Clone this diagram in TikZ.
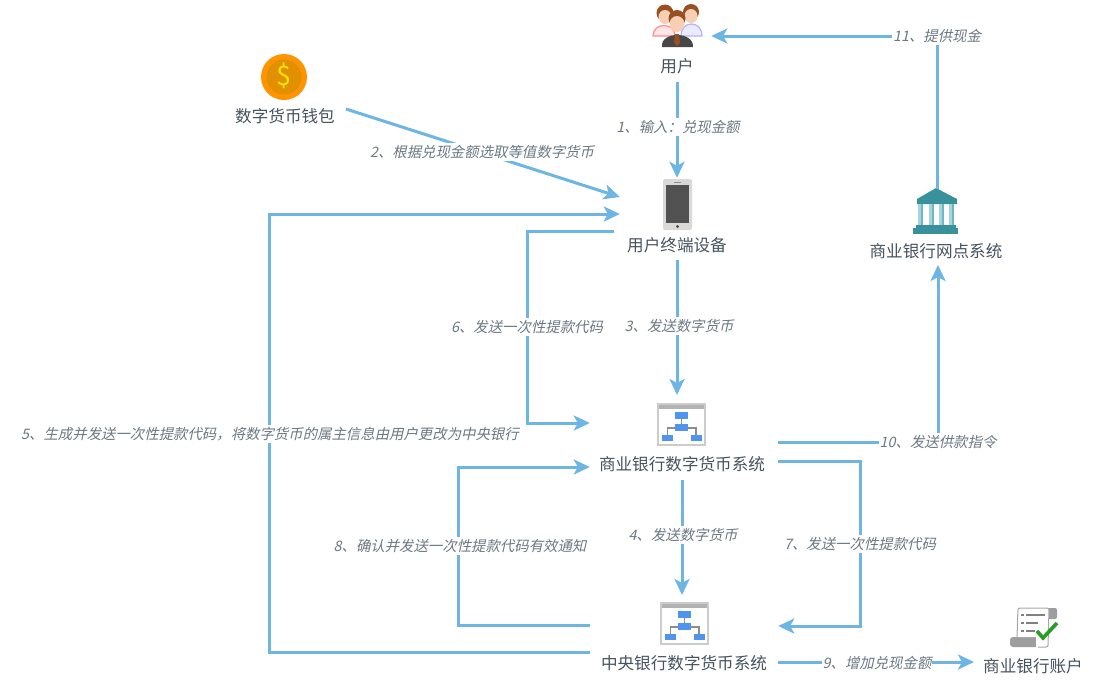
\documentclass[tikz,border=0pt]{standalone}
\usepackage{fontspec}
\setmainfont{Noto Sans CJK SC}
\newfontfamily\slantcjk[FakeSlant=0.22]{Noto Sans CJK SC}
\usetikzlibrary{arrows.meta}
\definecolor{flow}{HTML}{6DB5E2}
\definecolor{boxblue}{HTML}{4F94EE}
\definecolor{bankteal}{HTML}{39919C}
\definecolor{bankpale}{HTML}{A5D6DE}
\definecolor{bankmid}{HTML}{6FB8C3}
\definecolor{titleink}{HTML}{46525E}
\definecolor{noteink}{HTML}{6C7883}
\definecolor{hair}{HTML}{9A4F22}
\definecolor{skin}{HTML}{F7CFB4}
\tikzset{
  flowline/.style={draw=flow, line width=3pt,
    -{Stealth[length=16pt,width=15pt,inset=4pt]}},
  title/.style={font=\fontsize{16.6pt}{18pt}\selectfont, text=titleink, inner sep=0pt},
  note/.style={font=\slantcjk\fontsize{14.4pt}{16pt}\selectfont, text=noteink,
    fill=white, inner xsep=1pt, inner ysep=2pt},
  slot/.style={inner sep=0pt, minimum width=#1, minimum height=42pt}
}
\begin{document}
\begin{tikzpicture}[x=1pt, y=-1pt]
  \useasboundingbox (0, 0) rectangle (1095, 686);
  \def\Win{(0, 0) rectangle (47, 41)}

  % places of the icons
  \node[slot=68pt] (userbox) at (677, 26) {};
  \node[slot=120pt] (coinbox) at (284, 77) {};
  \node[slot=114pt, minimum height=52pt] (devbox) at (677, 204) {};
  \node[slot=188pt] (sysabox) at (684, 425) {};
  \node[slot=188pt] (sysbbox) at (684, 624) {};
  \node[slot=60pt] (bankbox) at (936, 210) {};
  \node[slot=60pt] (ledgerbox) at (1033, 627) {};
  \coordinate (devout) at (614, 231);

  % titles
  \node[title] (userlab) at (677, 66) {用户};
  \node[title] (walletlab) at (285, 116) {数字货币钱包};
  \node[title] (devlab) at (677, 245) {用户终端设备};
  \node[title] (sysalab) at (682, 464) {商业银行数字货币系统};
  \node[title] (sysblab) at (684, 663) {中央银行数字货币系统};
  \node[title] (banklab) at (936, 251) {商业银行网点系统};
  \node[title] (ledgerlab) at (1033, 666) {商业银行账户};

  \begin{scope} %A: Users
    \filldraw[draw=red!45!white, fill=red!10!white, line width=1.2pt] (653, 36) .. controls (653, 22) and (675, 22) .. (675, 36) -- cycle;
    \filldraw[draw=blue!30!white, fill=blue!8!white, line width=1.2pt] (681, 36) .. controls (681, 20) and (702, 20) .. (702, 36) -- cycle;
    \fill[hair] (665, 13) circle (8.5) (691, 12) circle (8);
    \fill[skin] (665, 17) ellipse (6.5 and 7) (691, 16) ellipse (6.5 and 7);
    \fill[black!72] (662, 47) .. controls (660, 31) and (694, 31) .. (693, 47) -- cycle;
    \fill[hair] (677, 18.5) circle (8.5);
    \fill[skin] (677, 24) ellipse (7.5 and 8);
    \fill[hair] (675, 34) -- (679, 34) -- (680, 43) -- (677, 46) -- (674, 43) -- cycle;
  \end{scope}

  \begin{scope} %A: Coin
    \fill[orange!85!yellow] (284, 77) circle (23);
    \fill[orange!72!yellow!88!black] (284, 77) circle (17.5);
    \node[font=\fontsize{27pt}{27pt}\selectfont, text=yellow!85!orange, inner sep=0pt] (coin) at (284, 76) {\$};
  \end{scope}

  \begin{scope} %A: Phone
    \fill[black!15, rounded corners=2pt] (663, 179) rectangle (692, 230);
    \fill[black!68] (666, 185) rectangle (689, 223);
    \fill[black!70] (677.5, 226.5) circle (1.7);
    \fill[black!45] (674, 181.5) rectangle (681, 182.5);
  \end{scope}

  \foreach \sx/\sy in {658/404, 661/603} {
    \begin{scope}[shift={(\sx, \sy)}] %A: System window
      \fill[white] \Win;
      \fill[black!30] (0, 0) rectangle (47, 5);
      \draw[black!20, line width=1.2pt] \Win;
      \draw[black!45, line width=1.6pt] (23.5, 14) -- (23.5, 22) (9.5, 31) -- (9.5, 24) -- (38, 24) -- (38, 31);
      \fill[boxblue] (17, 8) rectangle (30, 15);
      \fill[boxblue] (17, 20) rectangle (30, 27);
      \fill[boxblue] (4, 31) rectangle (15, 37);
      \fill[boxblue] (33, 31) rectangle (44, 37);
    \end{scope}
  }

  \begin{scope} %A: Bank
    \fill[bankteal] (936, 188) -- (957, 199) -- (957, 204) -- (917, 204) -- (917, 199) -- cycle;
    \foreach \cx in {918, 929, 939, 949} {
      \fill[bankpale] (\cx, 204) rectangle (\cx +5, 228);
      \fill[bankmid] (\cx +3, 204) rectangle (\cx +5, 228);
    }
    \fill[bankteal] (916, 225) rectangle (956, 228);
    \fill[bankteal] (913, 228) rectangle (958, 233.5);
  \end{scope}

  \begin{scope} %A: Ledger
    \fill[black!38, rounded corners=2pt] (1044, 608) rectangle (1057, 619);
    \fill[black!38, rounded corners=3pt] (1010, 637) rectangle (1040, 647);
    \fill[white] (1019, 608) -- (1049, 608) -- (1048, 647) -- (1036, 647) -- (1036, 637) -- (1017, 637) -- cycle;
    \draw[black!35, line width=1pt, rounded corners=2pt] (1017, 637) -- (1018, 608) -- (1049, 608) -- (1048, 647) -- (1038, 647);
    \foreach \ly/\lx in {615/1045, 623/1038, 631/1035} {
      \fill[black!50] (1021, \ly -1.3) rectangle (1023.5, \ly +1.3);
      \draw[black!50, line width=1.1pt] (1026, \ly) -- (\lx, \ly);
    }
    \draw[green!55!black!85!white, line width=3.6pt] (1037, 631) -- (1043, 638) -- (1057, 623);
  \end{scope}

  % connectors
  \draw[flowline] (userlab.south |- 0, 82) -- (devbox.north -| userlab.south);
  \draw[flowline] (walletlab.east |- 0, 109) ++(11, 0) -- ([yshift=7pt]devbox.west);
  \draw[flowline] (devlab.south |- 0, 260) -- (devlab.south |- 0, 395);
  \draw[flowline] (sysbbox.west |- 0, 652) -| (269, 214) -- ([yshift=-10pt]devbox.west);
  \draw[flowline] (devout) -- (527, 231) -- (527, 423) -- (sysabox.west |- 0, 423);
  \draw[flowline] (sysalab.south |- 0, 480) -- (sysalab.south |- 0, 595);
  \draw[flowline] (sysabox.east |- 0, 461) -- (860, 461) -- (860, 626) -- (sysbbox.east |- 0, 626);
  \draw[flowline] (sysbbox.west |- 0, 625) -- (458, 625) -- (458, 467) -- (sysabox.west |- 0, 467);
  \draw[flowline] (sysabox.east |- 0, 442) -| (938, 265);
  \draw[flowline] (bankbox.north -| 937, 0) |- (userbox.east |- 0, 36);
  \draw[flowline] (sysbbox.east |- 0, 662) -- ([xshift=-9pt]ledgerlab.west |- 0, 662);

  % connector labels
  \node[note] (n1) at (678, 127) {1、输入：兑现金额};
  \node[note] (n2) at (482, 152) {2、根据兑现金额选取等值数字货币};
  \node[note] (n3) at (679, 326) {3、发送数字货币};
  \node[note] (n4) at (683, 535) {4、发送数字货币};
  \node[note] (n5) at (270, 434) {5、生成并发送一次性提款代码，将数字货币的属主信息由用户更改为中央银行};
  \node[note] (n6) at (527, 327) {6、发送一次性提款代码};
  \node[note] (n7) at (860, 544) {7、发送一次性提款代码};
  \node[note] (n8) at (460, 546) {8、确认并发送一次性提款代码有效通知};
  \node[note] (n9) at (877, 663) {9、增加兑现金额};
  \node[note] (n10) at (938, 442) {10、发送供款指令};
  \node[note] (n11) at (937, 36) {11、提供现金};
\end{tikzpicture}
\end{document}
